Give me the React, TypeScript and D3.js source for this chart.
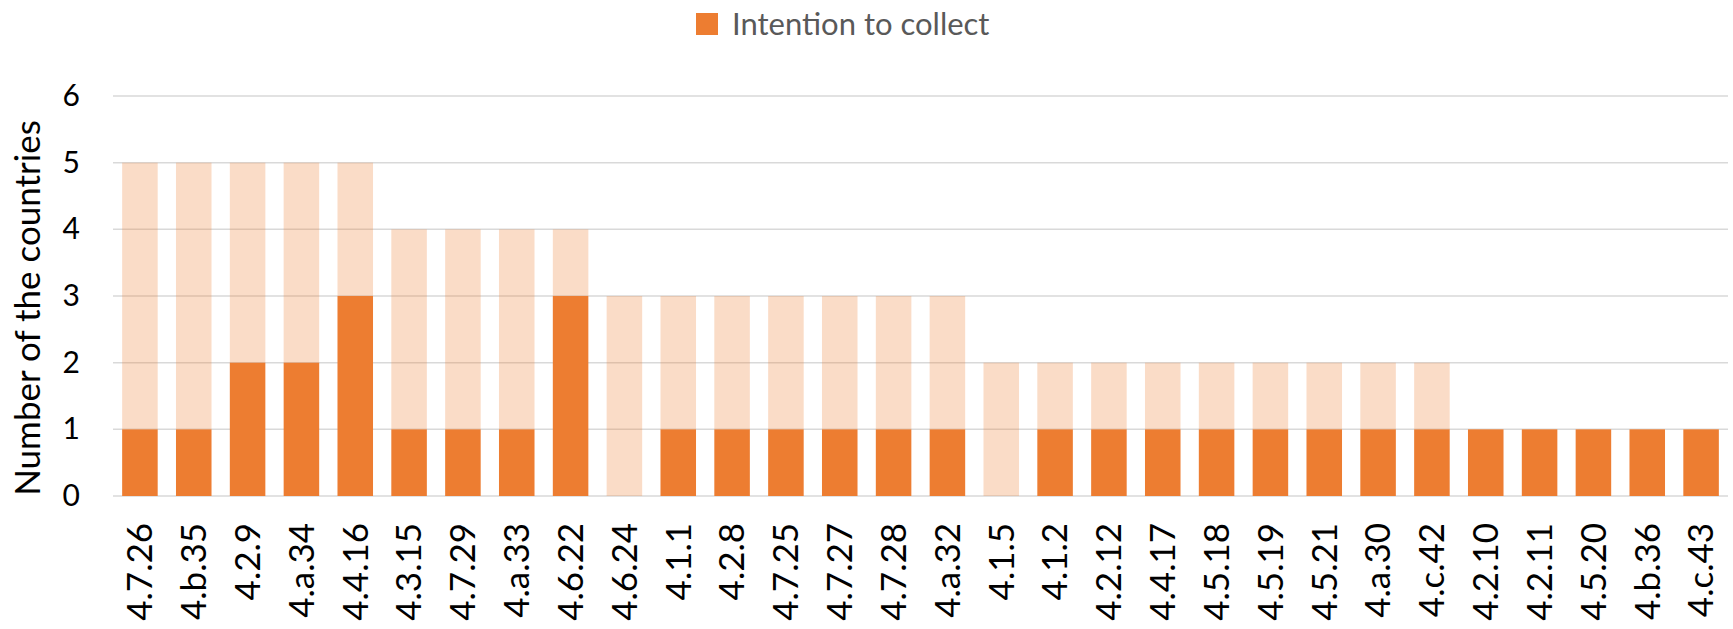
import React, { useEffect, useRef } from "react";
import * as d3 from "d3";

// --- Chart data ---
const categories = [
  "4.7.26", "4.b.35", "4.2.9", "4.a.34", "4.4.16", "4.3.15", "4.7.29", "4.a.33",
  "4.6.22", "4.6.24", "4.1.1", "4.2.8", "4.7.25", "4.7.27", "4.7.28", "4.a.32",
  "4.1.5", "4.1.2", "4.2.12", "4.4.17", "4.5.18", "4.5.19", "4.5.21", "4.a.30",
  "4.c.42", "4.2.10", "4.2.11", "4.5.20", "4.b.36", "4.c.43",
];
const intentionToCollect = [
  1, 1, 2, 2, 3, 1, 1, 1, 3, 0, 1, 1, 1, 1, 1, 1,
  0, 1, 1, 1, 1, 1, 1, 1, 1, 1, 1, 1, 1, 1,
];
const otherCountries = [
  4, 4, 3, 3, 2, 3, 3, 3, 1, 3, 2, 2, 2, 2, 2, 2,
  2, 1, 1, 1, 1, 1, 1, 1, 1, 0, 0, 0, 0, 0,
];
const yTicks = [0, 1, 2, 3, 4, 5, 6];
const legendLabel = "Intention to collect";
const yAxisTitle = "Number of the countries";

const WIDTH = 1733;
const HEIGHT = 629;
const ORANGE = "#ED7D31";
const FONT = "Lato, 'Open Sans', sans-serif";

export default function App() {
  const svgRef = useRef<SVGSVGElement>(null);

  useEffect(() => {
    const svg = d3.select(svgRef.current);
    svg.selectAll("*").remove();

    const margin = { top: 96, right: 5, bottom: 133, left: 113 };
    const chartWidth = WIDTH - margin.left - margin.right;
    const chartHeight = HEIGHT - margin.top - margin.bottom;

    const g = svg.append("g")
      .attr("transform", `translate(${margin.left},${margin.top})`);

    // --- Scales ---
    const xScale = d3.scaleBand()
      .domain(categories)
      .range([0, chartWidth])
      .paddingInner(0.34)
      .paddingOuter(0.17);

    const yScale = d3.scaleLinear()
      .domain([0, 6])
      .range([chartHeight, 0]);

    // --- Gridlines ---
    g.selectAll(".grid")
      .data(yTicks)
      .join("line")
      .attr("class", "grid")
      .attr("x1", 0)
      .attr("x2", chartWidth)
      .attr("y1", d => yScale(d))
      .attr("y2", d => yScale(d))
      .attr("stroke", "#D9D9D9")
      .attr("stroke-width", 1.5);

    // --- Stacked bars ---
    const rows = categories.map((c, i) => ({
      cat: c,
      intention: intentionToCollect[i],
      other: otherCountries[i],
    }));
    const stack = d3.stack<any>().keys(["intention", "other"])(rows);

    g.selectAll(".layer")
      .data(stack)
      .join("g")
      .attr("class", "layer")
      .attr("fill", ORANGE)
      .attr("fill-opacity", (d, i) => (i === 0 ? 1 : 0.27))
      .selectAll("rect")
      .data(d => d)
      .join("rect")
      .attr("x", d => xScale(d.data.cat)!)
      .attr("y", d => yScale(d[1]))
      .attr("width", xScale.bandwidth())
      .attr("height", d => yScale(d[0]) - yScale(d[1]));

    // --- Y axis ---
    const yAxis = g.append("g")
      .call(d3.axisLeft(yScale).tickValues(yTicks).tickFormat(d3.format("d")).tickSize(0).tickPadding(33));
    yAxis.select(".domain").remove();
    yAxis.selectAll("text")
      .style("font-family", FONT)
      .style("font-size", "30px")
      .attr("fill", "#000");

    // --- X axis ---
    const xAxis = g.append("g")
      .attr("transform", `translate(0,${chartHeight})`)
      .call(d3.axisBottom(xScale).tickSize(0).tickPadding(0));
    xAxis.select(".domain").remove();
    xAxis.selectAll("text")
      .attr("transform", "rotate(-90)")
      .attr("x", -27)
      .attr("y", 0)
      .attr("dy", "0.35em")
      .style("text-anchor", "end")
      .style("font-family", FONT)
      .style("font-size", "35px")
      .attr("fill", "#000");

    // --- Y axis title ---
    g.append("text")
      .attr("transform", "rotate(-90)")
      .attr("x", -(chartHeight / 2 + 12))
      .attr("y", -margin.left + 40)
      .attr("text-anchor", "middle")
      .style("font-family", FONT)
      .style("font-size", "35px")
      .attr("fill", "#000")
      .text(yAxisTitle);

    // --- Legend ---
    const legend = svg.append("g").attr("transform", "translate(696,13)");
    legend.append("rect")
      .attr("width", 22)
      .attr("height", 22)
      .attr("fill", ORANGE);
    legend.append("text")
      .attr("x", 36)
      .attr("y", 22)
      .style("font-family", FONT)
      .style("font-size", "31px")
      .attr("fill", "#595959")
      .text(legendLabel);
  }, []);

  return (
    <svg
      ref={svgRef}
      width={WIDTH}
      height={HEIGHT}
      style={{ position: "absolute", left: 0, top: 0, background: "#fff" }}
    />
  );
}
